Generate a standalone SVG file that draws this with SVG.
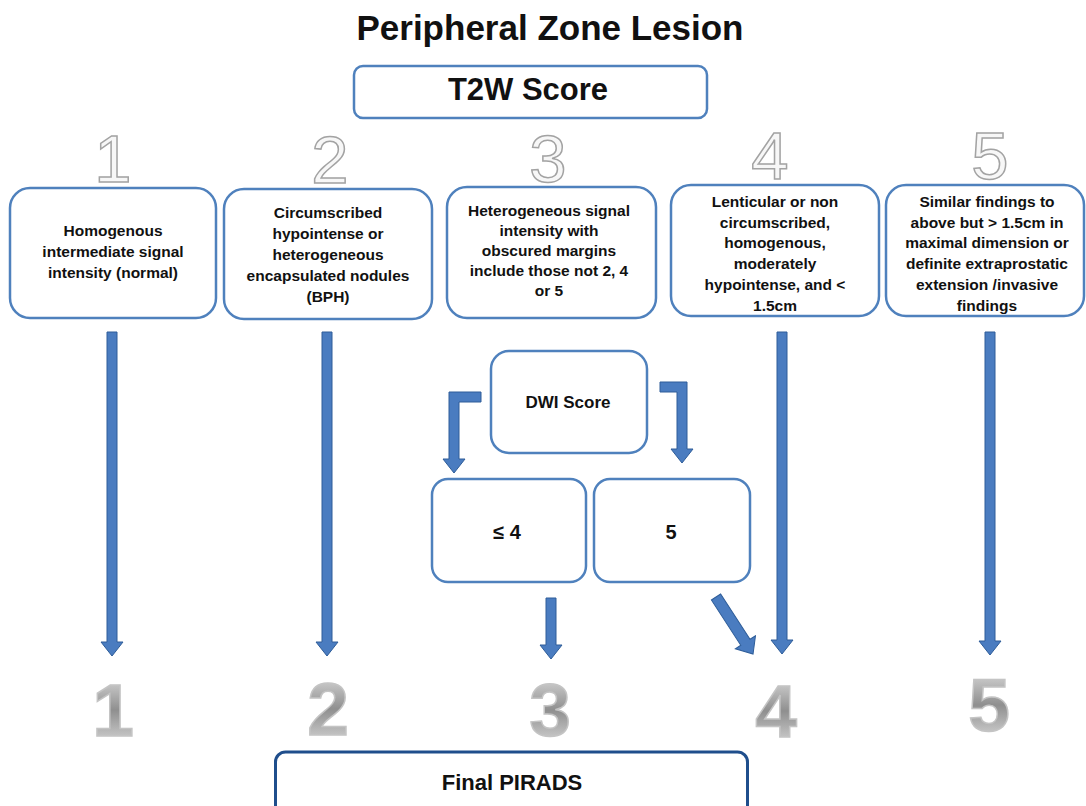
<svg xmlns="http://www.w3.org/2000/svg" width="1086" height="806" viewBox="0 0 1086 806">
<defs>
<style>
.box{fill:#fff;stroke:#4f81bd;stroke-width:2.5}
.t{font-family:"Liberation Sans",Arial,sans-serif;font-weight:bold;fill:#111;text-anchor:middle}
.bt{font-size:15.5px}
.num{font-family:"Liberation Sans",Arial,sans-serif;font-size:67px;fill:#f7f7f7;stroke:#a3a3a3;stroke-width:1.5;text-anchor:middle}
.big{font-family:"Liberation Sans",Arial,sans-serif;font-weight:bold;font-size:75px;fill:url(#silver);stroke:#c4c4c4;stroke-width:1.5;text-anchor:middle}
.arr{fill:#4a7cc0;stroke:#2e5d99;stroke-width:1}
</style>
<linearGradient id="silver" x1="0" y1="0" x2="0" y2="1">
<stop offset="0" stop-color="#e6e6e6"/>
<stop offset="0.5" stop-color="#8f8f8f"/>
<stop offset="1" stop-color="#e2e2e2"/>
</linearGradient>
</defs>
<rect width="1086" height="806" fill="#fff"/>

<g id="title"><text class="t" x="550" y="40" font-size="35">Peripheral Zone Lesion</text></g>

<g id="t2w">
<rect class="box" x="354" y="66" width="353" height="52" rx="9"/>
<text class="t" x="528" y="100" font-size="31">T2W Score</text>
</g>

<g id="top-numbers">
<text class="num" x="113" y="182">1</text>
<text class="num" x="330" y="183">2</text>
<text class="num" x="548" y="182">3</text>
<text class="num" x="770" y="179">4</text>
<text class="num" x="990" y="179">5</text>
</g>

<g id="box1">
<rect class="box" x="10" y="188" width="206" height="130" rx="20"/>
<text class="t bt"><tspan x="113" y="236">Homogenous</tspan><tspan x="113" y="257">intermediate signal</tspan><tspan x="113" y="278">intensity (normal)</tspan></text>
</g>

<g id="box2">
<rect class="box" x="224" y="189" width="208" height="130" rx="20"/>
<text class="t bt"><tspan x="328" y="218">Circumscribed</tspan><tspan x="328" y="239">hypointense or</tspan><tspan x="328" y="260">heterogeneous</tspan><tspan x="328" y="281">encapsulated nodules</tspan><tspan x="328" y="302">(BPH)</tspan></text>
</g>

<g id="box3">
<rect class="box" x="447" y="187" width="209" height="131" rx="20"/>
<text class="t bt"><tspan x="549" y="216">Heterogeneous signal</tspan><tspan x="549" y="236">intensity with</tspan><tspan x="549" y="256">obscured margins</tspan><tspan x="549" y="276">include those not 2, 4</tspan><tspan x="549" y="296">or 5</tspan></text>
</g>

<g id="box4">
<rect class="box" x="671" y="185" width="208" height="131" rx="20"/>
<text class="t bt"><tspan x="775" y="207">Lenticular or non</tspan><tspan x="775" y="228">circumscribed,</tspan><tspan x="775" y="248">homogenous,</tspan><tspan x="775" y="269">moderately</tspan><tspan x="775" y="290">hypointense, and &lt;</tspan><tspan x="775" y="311">1.5cm</tspan></text>
</g>

<g id="box5">
<rect class="box" x="886" y="185" width="198" height="131" rx="20"/>
<text class="t bt"><tspan x="987" y="207">Similar findings to</tspan><tspan x="987" y="228">above but &gt; 1.5cm in</tspan><tspan x="987" y="248">maximal dimension or</tspan><tspan x="987" y="269">definite  extraprostatic</tspan><tspan x="987" y="290">extension /invasive</tspan><tspan x="987" y="311">findings</tspan></text>
</g>

<g id="dwi">
<rect class="box" x="491" y="351" width="156" height="102" rx="18"/>
<text class="t" x="568" y="408" font-size="17">DWI Score</text>
</g>

<g id="le4">
<rect class="box" x="432" y="479" width="154" height="103" rx="16"/>
<text class="t" x="507" y="539" font-size="20">≤ 4</text>
</g>

<g id="eq5">
<rect class="box" x="594" y="479" width="156" height="103" rx="16"/>
<text class="t" x="671" y="539" font-size="20">5</text>
</g>

<g id="connectors">
<polygon class="arr" points="107,332 117,332 117,642 123,642 112,656 101,642 107,642"/>
<polygon class="arr" points="322,332 332,332 332,642 338,642 327,656 316,642 322,642"/>
<polygon class="arr" points="777,332 787,332 787,640 793,640 782,654 771,640 777,640"/>
<polygon class="arr" points="985,332 995,332 995,641 1001,641 990,655 979,641 985,641"/>
<polygon class="arr" points="546,598 556,598 556,645 562,645 551,659 540,645 546,645"/>
<polygon class="arr" transform="translate(716,597) rotate(-33)" points="-5.5,0 5.5,0 5.5,54 12,54 0,68 -12,54 -5.5,54"/>
<polygon class="arr" points="481,392 449,392 449,459 443,459 454,473 465,459 459,459 459,402 481,402"/>
<polygon class="arr" points="660,382 687,382 687,449 693,449 682,463 671,449 677,449 677,392 660,392"/>
</g>

<g id="bottom-numbers">
<text class="big" x="113" y="736">1</text>
<text class="big" x="328" y="735">2</text>
<text class="big" x="550" y="736">3</text>
<text class="big" x="776" y="737">4</text>
<text class="big" x="989" y="731">5</text>
</g>

<g id="final">
<rect x="275.5" y="752" width="472" height="80" rx="10" fill="#fff" stroke="#1f4e8c" stroke-width="3"/>
<text class="t" x="512" y="790" font-size="22">Final PIRADS</text>
</g>
</svg>
